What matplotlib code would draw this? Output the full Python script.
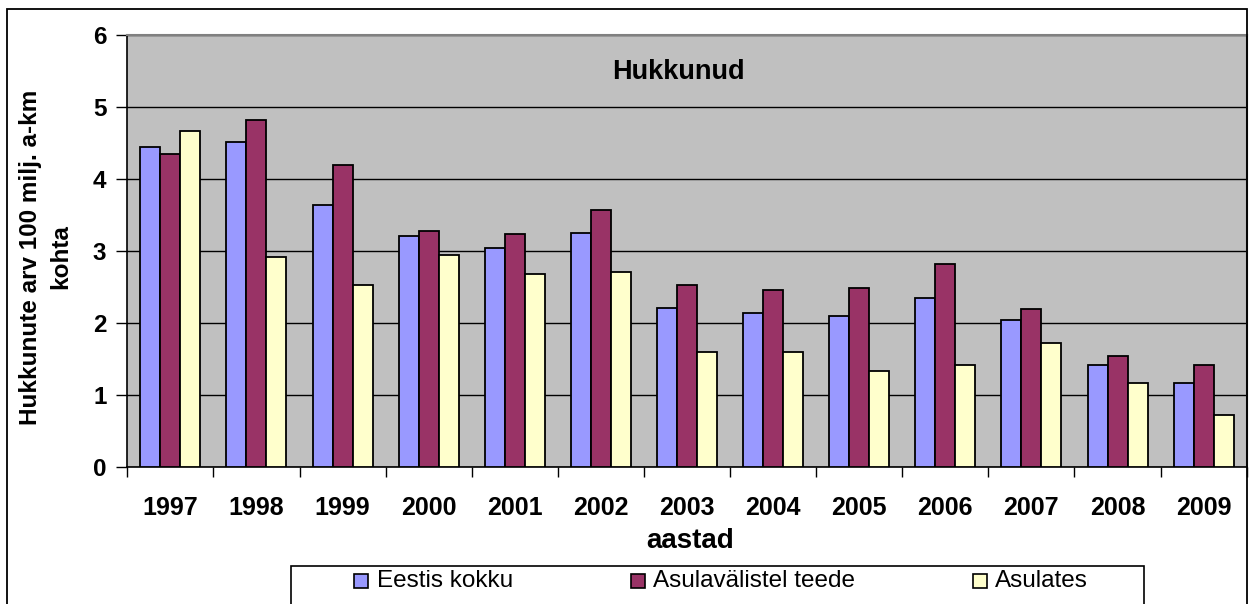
import matplotlib
matplotlib.use("Agg")
import matplotlib.pyplot as plt
from matplotlib.patches import Rectangle
import numpy as np

years = ["1997", "1998", "1999", "2000", "2001", "2002", "2003",
         "2004", "2005", "2006", "2007", "2008", "2009"]
eestis_kokku = [4.45, 4.51, 3.64, 3.21, 3.04, 3.25, 2.21, 2.14, 2.09, 2.35, 2.04, 1.41, 1.17]
asulavalistel = [4.35, 4.82, 4.20, 3.28, 3.24, 3.57, 2.52, 2.46, 2.48, 2.82, 2.19, 1.54, 1.41]
asulates = [4.67, 2.92, 2.53, 2.94, 2.68, 2.71, 1.59, 1.59, 1.33, 1.41, 1.72, 1.17, 0.72]

series_names = ["Eestis kokku", "Asulavälistel teede", "Asulates"]
series_values = [eestis_kokku, asulavalistel, asulates]
series_colors = ["#9999FF", "#993366", "#FFFFCC"]

W, H = 1249, 604
plt.rcParams["font.family"] = ["Liberation Sans", "DejaVu Sans"]

fig = plt.figure(figsize=(W / 100, H / 100), dpi=100)
fig.patch.set_facecolor("white")

left, right, top, bottom = 127.3, 1246.7, 35.0, 466.7
ax = fig.add_axes([left / W, 1 - bottom / H, (right - left) / W, (bottom - top) / H])
ax.set_facecolor("#C0C0C0")

n = len(years)
x = np.arange(n) + 0.5
bw = 0.232
for k, (vals, col) in enumerate(zip(series_values, series_colors)):
    ax.bar(x + (k - 1) * bw, vals, width=bw, color=col, edgecolor="black",
           linewidth=1.3, zorder=3)

ax.set_xlim(0, n)
ax.set_ylim(0, 6)
ax.set_yticks(range(0, 7))
ax.yaxis.grid(True, color="black", linewidth=1.0, zorder=1)
ax.set_axisbelow(True)

# category boundaries carry the tick marks, centres carry the labels
ax.set_xticks(np.arange(0, n + 1))
ax.set_xticklabels([])
ax.set_xticks(x, minor=True)
ax.set_xticklabels(years, minor=True, fontsize=18, fontweight="bold")
ax.tick_params(axis="x", which="major", direction="out", length=7, width=1, color="black")
ax.tick_params(axis="x", which="minor", length=0, pad=21)
ax.tick_params(axis="y", direction="out", length=8, width=1, pad=7, labelsize=17.5)
for lbl in ax.get_yticklabels():
    lbl.set_fontweight("bold")

for side in ["left", "bottom"]:
    ax.spines[side].set_color("black")
    ax.spines[side].set_linewidth(1.2)
ax.spines["top"].set_color("#808080")
ax.spines["top"].set_linewidth(1.5)
ax.spines["right"].set_color("#404040")
ax.spines["right"].set_linewidth(1.5)

fig.text(678 / W, 1 - 72 / H, "Hukkunud", ha="center", va="center",
         fontsize=19.5, fontweight="bold")
fig.text(690 / W, 1 - 541 / H, "aastad", ha="center", va="center",
         fontsize=20, fontweight="bold")
fig.text(46 / W, 1 - 257 / H, "Hukkunute arv 100 milj. a-km\nkohta", ha="center",
         va="center", rotation=90, fontsize=17.5, fontweight="bold", linespacing=1.4,
         multialignment="center")

# outer frame
fig.patches.append(Rectangle((7 / W, -0.1), (1246.7 - 7) / W, (H - 9) / H + 0.1,
                             transform=fig.transFigure, fill=False,
                             edgecolor="black", linewidth=1.3, zorder=0))

# legend box
lx0, ly0, lx1 = 290.7, 566, 1144
fig.patches.append(Rectangle((lx0 / W, -0.1), (lx1 - lx0) / W, (H - ly0) / H + 0.1,
                             transform=fig.transFigure, facecolor="white",
                             edgecolor="black", linewidth=1.2, zorder=5))
marker_x = [354, 631, 973]
text_x = [377, 653, 995]
ly = 581
for name, col, mx, tx in zip(series_names, series_colors, marker_x, text_x):
    fig.patches.append(Rectangle((mx / W, 1 - (ly + 7) / H), 14 / W, 14 / H,
                                 transform=fig.transFigure, facecolor=col,
                                 edgecolor="black", linewidth=1.2, zorder=6))
    fig.text(tx / W, 1 - ly / H, name, ha="left", va="center", fontsize=17.5,
             zorder=7)

fig.savefig("out.png", dpi=100)
